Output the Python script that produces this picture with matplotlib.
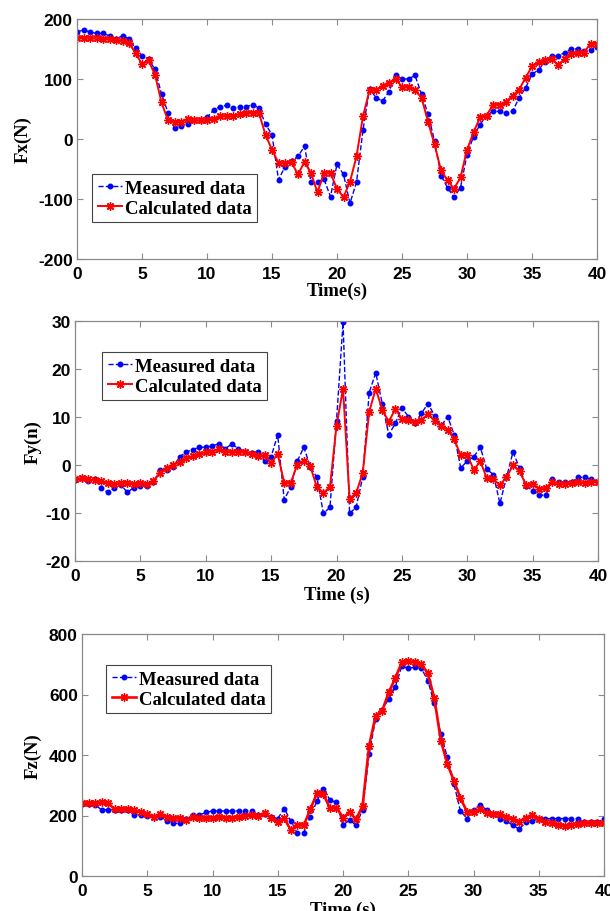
import numpy as np
import matplotlib
matplotlib.use("Agg")
import matplotlib.pyplot as plt

plt.rcParams["axes.unicode_minus"] = False

time = np.arange(0, 40.5, 0.5)

fx_measured = [178, 182, 178, 176, 176, 172, 167, 172, 167, 151,
               139, 133, 116, 75, 44, 19, 21, 25, 31, 31,
               36, 48, 54, 56, 51, 54, 54, 57, 52, 25,
               7, -68, -46, -37, -29, -12, -72, -72, -67, -96,
               -42, -59, -107, -72, 15, 84, 69, 63, 79, 106,
               100, 100, 106, 75, 42, -3, -61, -81, -97, -81,
               -26, 4, 24, 39, 46, 46, 43, 46, 68, 85,
               108, 115, 129, 138, 138, 144, 150, 150, 147, 149,
               154]
fx_calculated = [169, 168, 168, 168, 167, 167, 165, 163, 160, 143,
                 125, 131, 107, 61, 31, 29, 29, 33, 31, 31,
                 31, 34, 38, 38, 38, 42, 44, 44, 43, 7,
                 -18, -40, -40, -39, -59, -38, -57, -89, -56, -57,
                 -83, -97, -71, -29, 38, 81, 82, 89, 94, 100,
                 87, 87, 81, 69, 29, -9, -52, -69, -83, -64,
                 -18, 11, 36, 39, 57, 57, 62, 72, 82, 102,
                 121, 128, 131, 133, 124, 133, 142, 144, 144, 159,
                 158]

fy_measured = [-3.2, -2.7, -3.3, -3.0, -4.7, -5.7, -4.8, -4.1, -5.7, -4.7,
               -4.4, -4.4, -3.5, -1.1, -1.1, -0.4, 1.7, 2.7, 3.2, 3.7,
               3.7, 4.0, 4.4, 3.4, 4.4, 3.4, 2.7, 2.5, 2.7, 0.8,
               1.7, 6.3, -7.2, -4.6, 0.8, 3.7, -0.4, -2.6, -10.1, -8.8,
               9.2, 29.7, -10.1, -8.8, -2.6, 15.1, 19.2, 12.8, 6.3, 8.7,
               11.9, 10.1, 8.7, 10.8, 12.8, 10.3, 8.1, 10.1, 6.3, -0.6,
               0.8, 1.7, 3.7, -0.9, -2.0, -8.0, -2.6, 2.7, -0.6, -4.3,
               -5.4, -6.3, -6.3, -3.0, -3.5, -3.5, -3.5, -2.6, -2.6, -3.0,
               -3.5]
fy_calculated = [-3.0, -2.8, -3.0, -3.2, -3.4, -3.7, -3.9, -3.7, -3.7, -3.9,
                 -3.7, -3.9, -3.4, -1.6, -0.6, 0.1, 0.6, 1.4, 1.8, 2.3,
                 2.7, 2.7, 3.4, 2.7, 2.7, 2.7, 2.7, 2.3, 1.9, 2.0,
                 0.4, 2.3, -3.7, -3.7, 0.1, 0.8, -0.3, -4.6, -5.8, -4.6,
                 8.2, 15.9, -7.0, -5.9, -1.7, 11.1, 15.9, 11.5, 9.0, 11.7,
                 9.6, 9.4, 9.0, 9.4, 10.6, 9.2, 8.2, 7.3, 5.4, 2.0,
                 2.1, -1.0, 0.8, -2.8, -3.0, -4.2, -2.5, -0.1, -1.3, -4.2,
                 -3.9, -4.9, -4.8, -3.5, -3.9, -3.9, -3.7, -3.5, -3.7, -3.5,
                 -3.5]

fz_measured = [237, 237, 235, 219, 219, 219, 219, 219, 202, 202,
               199, 196, 196, 182, 174, 174, 188, 202, 202, 210,
               215, 215, 215, 215, 215, 215, 215, 202, 204, 196,
               190, 223, 182, 143, 143, 196, 248, 289, 251, 243,
               168, 185, 168, 219, 403, 519, 550, 585, 624, 693,
               687, 690, 687, 646, 571, 469, 392, 304, 215, 190,
               219, 235, 219, 204, 190, 182, 168, 155, 177, 182,
               190, 190, 190, 190, 190, 190, 190, 177, 177, 177,
               190]
fz_calculated = [240, 240, 240, 243, 241, 221, 223, 221, 217, 212,
                 204, 196, 204, 196, 191, 191, 184, 196, 191, 191,
                 191, 196, 193, 193, 196, 199, 202, 199, 208, 191,
                 177, 191, 151, 168, 168, 221, 273, 270, 224, 226,
                 193, 210, 188, 232, 430, 530, 546, 607, 653, 706,
                 710, 706, 701, 670, 588, 447, 370, 315, 257, 213,
                 210, 221, 208, 204, 204, 196, 190, 180, 193, 201,
                 190, 177, 174, 168, 166, 168, 171, 174, 174, 174,
                 174]

x_ticks = [0, 5, 10, 15, 20, 25, 30, 35, 40]
fx_ticks = [-200, -100, 0, 100, 200]
fy_ticks = [-20, -10, 0, 10, 20, 30]
fz_ticks = [0, 200, 400, 600, 800]

legend_labels = ["Measured data", "Calculated data"]

W, H = 610, 912
fig = plt.figure(figsize=(W / 100, H / 100), dpi=100)

SERIF = ["Liberation Serif", "DejaVu Serif"]
SANS = ["Liberation Sans", "DejaVu Sans"]
GRAY = "#8a8a8a"
STAR = (8, 2, 0)


def make_axes(l, r, t, b):
    return fig.add_axes([l / W, 1 - b / H, (r - l) / W, (b - t) / H])


panels = [
    dict(box=(77, 597, 20, 260), meas=fx_measured, calc=fx_calculated,
         ylim=(-200, 200), yt=fx_ticks, ylabel="Fx(N)", xlabel="Time(s)",
         ylab_x=(32 - 77) / 520, xlab_y=(260 - 283) / 240,
         leg=((92 - 77) / 520, (260 - 175) / 240), lw=1.4),
    dict(box=(75, 598, 322, 562), meas=fy_measured, calc=fy_calculated,
         ylim=(-20, 30), yt=fy_ticks, ylabel="Fy(n)", xlabel="Time (s)",
         ylab_x=(42 - 75) / 523, xlab_y=(562 - 587) / 240,
         leg=((102 - 75) / 523, (562 - 353) / 240), lw=1.4),
    dict(box=(82, 604, 635, 877), meas=fz_measured, calc=fz_calculated,
         ylim=(0, 800), yt=fz_ticks, ylabel="Fz(N)", xlabel="Time (s)",
         ylab_x=(42 - 82) / 522, xlab_y=(877 - 902) / 242,
         leg=((106 - 82) / 522, (877 - 666) / 242), lw=1.9),
]

for p in panels:
    ax = make_axes(*p["box"])
    ax.plot(time, p["meas"], linestyle="--", color="#0000ff", linewidth=1.0,
            marker=".", markersize=6.5, label=legend_labels[0])
    ax.plot(time, p["calc"], linestyle="-", color="#ff0000", linewidth=p["lw"],
            marker=STAR, markersize=6, markeredgewidth=1.0, label=legend_labels[1])
    ax.set_xlim(0, 40)
    ax.set_ylim(*p["ylim"])
    ax.set_xticks(x_ticks)
    ax.set_yticks(p["yt"])
    ax.tick_params(direction="in", top=True, right=True, length=4, width=0.8,
                   color=GRAY, labelsize=12.5)
    ax.tick_params(axis="x", pad=5)
    ax.tick_params(axis="y", pad=3)
    for lab in ax.get_xticklabels() + ax.get_yticklabels():
        lab.set_family(SANS)
        lab.set_fontweight("bold")
    for s in ax.spines.values():
        s.set_color(GRAY)
        s.set_linewidth(0.9)
    ax.set_ylabel(p["ylabel"], family=SERIF, fontweight="bold", fontsize=13.5)
    ax.yaxis.set_label_coords(p["ylab_x"], 0.5)
    ax.set_xlabel(p["xlabel"], family=SERIF, fontweight="bold", fontsize=13.5)
    ax.xaxis.set_label_coords(0.5, p["xlab_y"])
    leg = ax.legend(loc="upper left", bbox_to_anchor=p["leg"], borderaxespad=0,
                    fancybox=False, framealpha=1, edgecolor="#444444",
                    prop=dict(family=SERIF, weight="bold", size=13.5),
                    handlelength=1.3, handletextpad=0.15, labelspacing=0.15,
                    borderpad=0.3, markerscale=1.0)
    leg.get_frame().set_linewidth(0.8)

fig.savefig("out.png", dpi=100)
